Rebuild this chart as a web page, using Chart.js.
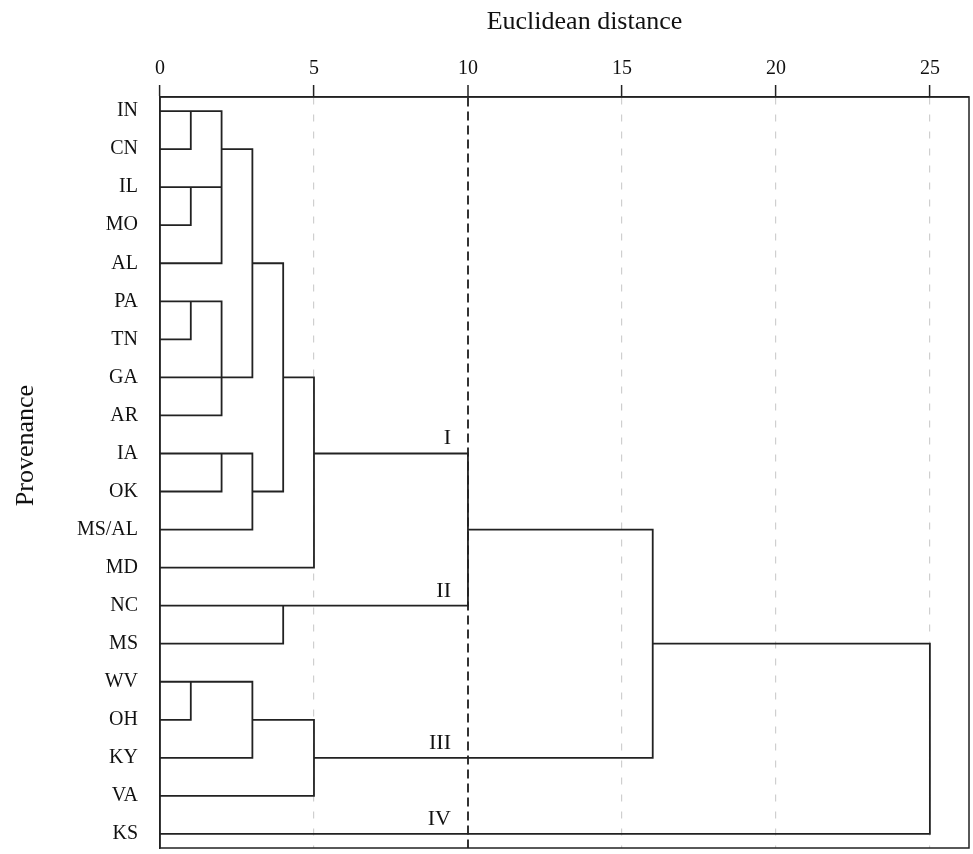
<!DOCTYPE html>
<html>
<head>
<meta charset="utf-8">
<script src="https://cdn.jsdelivr.net/npm/chart.js@4.4.1/dist/chart.umd.min.js"></script>
<style>
  html, body { margin: 0; padding: 0; background: #fff; overflow: hidden; }
  canvas { display: block; }
</style>
</head>
<body>
<canvas id="chart" width="973" height="854"></canvas>
<script>
// leaves, top to bottom
const provenance = ["IN", "CN", "IL", "MO", "AL", "PA", "TN", "GA", "AR", "IA",
  "OK", "MS/AL", "MD", "NC", "MS", "WV", "OH", "KY", "VA", "KS"];
const distanceTicks = [0, 5, 10, 15, 20, 25];
const cutDistance = 10;

// horizontal branches: [row, from distance, to distance]
const hBranches = [
  [0, 0, 2], [1, 0, 1], [1, 2, 3], [2, 0, 2], [3, 0, 1], [4, 0, 2], [4, 3, 4],
  [5, 0, 2], [6, 0, 1], [7, 0, 3], [7, 4, 5], [8, 0, 2], [9, 0, 3], [9, 5, 10],
  [10, 0, 2], [10, 3, 4], [11, 0, 3], [11, 10, 16], [12, 0, 5], [13, 0, 10],
  [14, 0, 4], [14, 16, 25], [15, 0, 3], [16, 0, 1], [16, 3, 5], [17, 0, 3],
  [17, 5, 16], [18, 0, 5], [19, 0, 25]
];

// vertical joins: [distance, from row, to row]
const vJoins = [
  [1, 0, 1], [1, 2, 3], [1, 5, 6], [1, 15, 16], [2, 0, 4], [2, 5, 8], [2, 9, 10],
  [3, 1, 7], [3, 9, 11], [3, 15, 17], [4, 4, 10], [4, 13, 14], [5, 7, 12],
  [5, 16, 18], [10, 9, 13], [16, 11, 17], [25, 14, 19]
];

const clusterNames = ["I", "II", "III", "IV"];
const clusterRows = [9, 13, 17, 19];

const xTitle = "Euclidean distance";
const yTitle = "Provenance";

const FONT = '"Liberation Serif", "Times New Roman", serif';

const gap = { x: null, y: null };
const branchPoints = [];
hBranches.forEach(([row, a, b]) => {
  branchPoints.push({ x: a, y: row }, { x: b, y: row }, gap);
});
vJoins.forEach(([d, r1, r2]) => {
  branchPoints.push({ x: d, y: r1 }, { x: d, y: r2 }, gap);
});

const annotate = {
  id: "annotate",
  afterDatasetsDraw(chart) {
    const { ctx, chartArea, scales } = chart;
    const x = scales.x, y = scales.y;
    ctx.save();
    // frame
    ctx.strokeStyle = "#222";
    ctx.lineWidth = 1.5;
    ctx.strokeRect(chartArea.left, chartArea.top, chartArea.width, chartArea.height);

    // cluster labels
    ctx.fillStyle = "#111";
    ctx.font = "22px " + FONT;
    ctx.textAlign = "right";
    ctx.textBaseline = "alphabetic";
    clusterNames.forEach((name, i) => {
      ctx.fillText(name, x.getPixelForValue(cutDistance) - 17, y.getPixelForValue(clusterRows[i]) - 9);
    });

    // axis titles
    ctx.font = "26px " + FONT;
    ctx.textAlign = "center";
    ctx.fillText(xTitle, (chartArea.left + chartArea.right) / 2 + 20, 29);
    ctx.translate(33, (chartArea.top + chartArea.bottom) / 2 - 27);
    ctx.rotate(-Math.PI / 2);
    ctx.fillText(yTitle, 0, 0);
    ctx.restore();
  }
};

new Chart(document.getElementById("chart"), {
  type: "scatter",
  data: {
    datasets: [
      {
        label: "Dendrogram",
        data: branchPoints,
        showLine: true,
        spanGaps: false,
        borderColor: "#222",
        borderWidth: 1.8,
        borderCapStyle: "square",
        pointRadius: 0,
        pointHoverRadius: 0,
        tension: 0
      }
    ]
  },
  options: {
    responsive: false,
    animation: false,
    layout: { padding: { left: 0, top: 0, right: 4, bottom: 6 } },
    plugins: {
      legend: { display: false },
      tooltip: { enabled: false }
    },
    scales: {
      x: {
        type: "linear",
        position: "top",
        min: 0,
        max: 26.27,
        afterBuildTicks: (scale) => {
          scale.ticks = distanceTicks.map((v) => ({ value: v }));
        },
        afterFit: (scale) => {
          scale.height = 97;
          scale.paddingLeft = 0;
          scale.paddingRight = 0;
        },
        ticks: {
          color: "#111",
          font: { family: FONT, size: 20 },
          padding: 4,
          maxRotation: 0
        },
        grid: {
          drawTicks: true,
          tickLength: 12,
          tickColor: "#222",
          tickWidth: 1.5,
          color: (ctx) => {
            if (!ctx.tick) return "#c8c8c8";
            if (ctx.tick.value === 0) return "rgba(0,0,0,0)";
            if (ctx.tick.value === cutDistance) return "#333";
            return "#cfcfcf";
          },
          lineWidth: (ctx) => (ctx.tick && ctx.tick.value === cutDistance ? 2 : 1.2)
        },
        border: {
          display: true,
          color: "#222",
          width: 1.5,
          dash: (ctx) => {
            if (!ctx.tick) return [];
            return ctx.tick.value === cutDistance ? [9, 5] : [7, 10];
          }
        }
      },
      y: {
        type: "linear",
        reverse: true,
        min: -0.37,
        max: 19.37,
        afterBuildTicks: (scale) => {
          scale.ticks = provenance.map((_, i) => ({ value: i }));
        },
        afterFit: (scale) => {
          scale.width = 160;
          scale.paddingTop = 0;
          scale.paddingBottom = 0;
        },
        ticks: {
          autoSkip: false,
          color: "#111",
          font: { family: FONT, size: 20 },
          padding: 22,
          callback: (v) => provenance[v]
        },
        grid: { display: false, drawTicks: false },
        border: { display: true, color: "#222", width: 1.5 }
      }
    }
  },
  plugins: [annotate]
});
</script>
</body>
</html>
